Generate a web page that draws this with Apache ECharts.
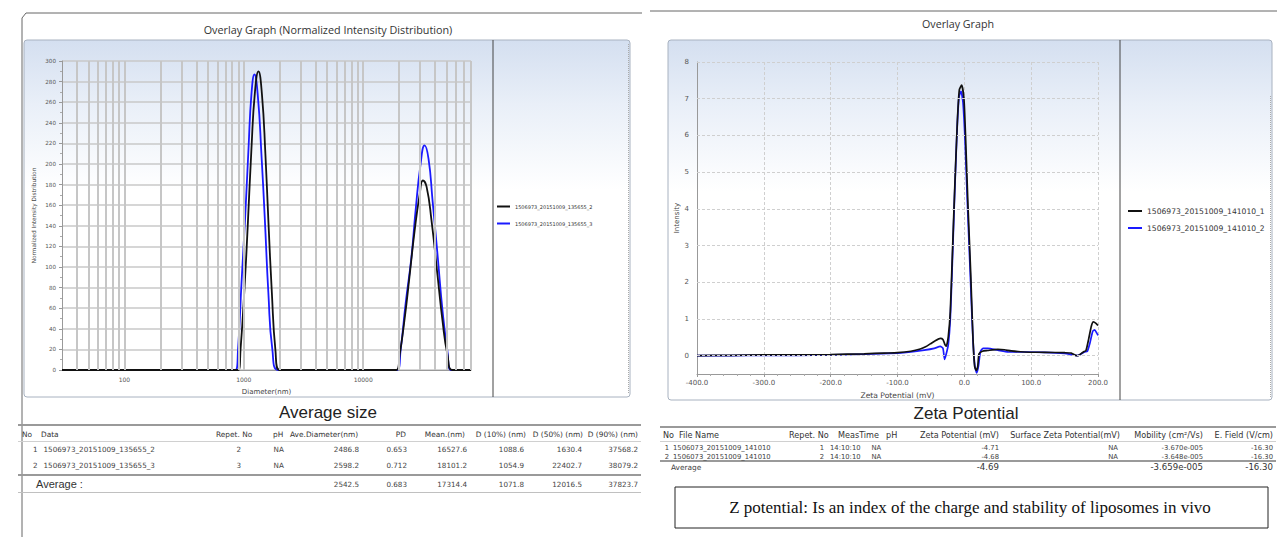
<!DOCTYPE html>
<html><head><meta charset="utf-8">
<script src="https://cdn.jsdelivr.net/npm/echarts@6/dist/echarts.min.js"></script>
<style>html,body{margin:0;padding:0;background:#fff;}#c{width:1277px;height:537px;}</style>
</head><body><div id="c"></div>
<script>
// ================= DATA =================
const sizeSeriesNames = ['1506973_20151009_135655_2', '1506973_20151009_135655_3'];
// diameter (nm) and normalized intensity, run _2 (black)
const sizeDiamA = [30, 898, 939, 1014, 1084, 1159, 1240, 1326, 1418, 1516, 1606, 1718, 1838, 1984,
  18980, 20220, 22260, 24500, 26960, 29690, 31620, 33950, 37360, 41930, 46160, 50800, 56230, 80000];
const sizeIntA = [0, 0, 20, 80, 145, 215, 270, 290, 268, 210, 145, 75, 20, 0,
  0, 15, 50, 92, 135, 170, 184, 178, 145, 92, 48, 15, 0, 0];
// run _3 (blue)
const sizeDiamB = [30, 853, 895, 957, 1023, 1095, 1159, 1228, 1313, 1404, 1502, 1606, 1734, 1935,
  19200, 20610, 22690, 25320, 27490, 30260, 32670, 35270, 38080, 42170, 46160, 50800, 54560, 80000];
const sizeIntB = [0, 0, 20, 85, 145, 215, 268, 287, 265, 210, 145, 75, 20, 0,
  0, 20, 65, 109, 155, 200, 218, 205, 165, 109, 58, 18, 0, 0];
const diameterGridValues = [40, 50, 60, 70, 80, 90, 100, 200, 300, 400, 500, 600, 700, 800, 900, 1000,
  2000, 3000, 4000, 5000, 6000, 7000, 8000, 9000, 10000, 20000, 30000, 40000, 50000, 60000, 70000, 80000];
const diameterLabelValues = [100, 1000, 10000];

const zetaSeriesNames = ['1506973_20151009_141010_1', '1506973_20151009_141010_2'];
const zetaMvA = [-400, -350, -300, -250, -200, -150, -120, -100, -80, -66, -58, -51, -44, -36, -32, -29, -27, -24, -21, -18,
  -14.5, -10.5, -7.5, -4, -0.5, 2, 5.5, 9.5, 13, 15.5, 18, 20, 22, 27, 35, 50, 60, 70, 90, 120, 150, 160, 168, 172, 178,
  182, 186, 190, 193, 197, 200];
const zetaIntA = [0, 0.01, 0.02, 0.02, 0.03, 0.05, 0.07, 0.08, 0.12, 0.18, 0.24, 0.32, 0.4, 0.47, 0.44, 0.3, 0.26, 0.52, 1.2, 2.7,
  4.5, 6.35, 7.24, 7.37, 6.97, 5.88, 4.06, 2.26, 0.44, -0.3, -0.4, -0.3, 0.05, 0.12, 0.14, 0.17, 0.16, 0.13, 0.1, 0.09, 0.08, 0.07, 0.0, 0.02, 0.1,
  0.14, 0.45, 0.8, 0.92, 0.88, 0.82];
const zetaMvB = [-400, -350, -300, -250, -200, -150, -100, -80, -60, -45, -36, -32, -29.5, -27, -24, -21, -18, -14.5, -11, -8,
  -5, -2, 1, 4.5, 8.5, 12.5, 15.5, 18.5, 21, 24, 28, 35, 50, 66, 90, 120, 150, 160, 169, 175, 180, 184, 188, 192, 195, 198, 200];
const zetaIntB = [0, 0, 0.01, 0.01, 0.02, 0.04, 0.07, 0.1, 0.15, 0.2, 0.25, 0.2, -0.1, 0.05, 0.3, 1.0, 2.5, 4.4, 6.1, 7.05,
  7.2, 6.9, 5.9, 4.2, 2.4, 0.6, -0.25, -0.47, -0.3, 0.1, 0.2, 0.2, 0.15, 0.1, 0.1, 0.09, 0.06, 0.03, 0.0, 0.05, 0.1, 0.12, 0.35, 0.66, 0.7, 0.62, 0.55];
const intensityTickValues = [0, 1, 2, 3, 4, 5, 6, 7, 8];

// tables
const sizeHeaders = ['No', 'Data', 'Repet. No', 'pH', 'Ave.Diameter(nm)', 'PD', 'Mean.(nm)', 'D (10%) (nm)', 'D (50%) (nm)', 'D (90%) (nm)'];
const sizeRows = [
  ['1', '1506973_20151009_135655_2', '2', 'NA', '2486.8', '0.653', '16527.6', '1088.6', '1630.4', '37568.2'],
  ['2', '1506973_20151009_135655_3', '3', 'NA', '2598.2', '0.712', '18101.2', '1054.9', '22402.7', '38079.2']
];
const sizeAverageLabel = 'Average :';
const sizeAverage = ['2542.5', '0.683', '17314.4', '1071.8', '12016.5', '37823.7'];

const zetaHeaders = ['No', 'File Name', 'Repet. No', 'MeasTime', 'pH', 'Zeta Potential (mV)', 'Surface Zeta Potential(mV)', 'Mobility (cm\u00b2/Vs)', 'E. Field (V/cm)'];
const zetaRows = [
  ['1', '1506073_20151009_141010', '1', '14:10:10', 'NA', '-4.71', 'NA', '-3.670e-005', '-16.30'],
  ['2', '1506073_20151009_141010', '2', '14:10:10', 'NA', '-4.68', 'NA', '-3.648e-005', '-16.30']
];
const zetaAverageLabel = 'Average';
const zetaAverage = ['-4.69', '-3.659e-005', '-16.30'];
const noteText = 'Z potential: Is an index of the charge and stability of liposomes in vivo';

// ================= LAYOUT / STYLE =================
const UI = 'DejaVu Sans';
const BLACK = '#111111', BLUE = '#1a1aff';
const G = [];
function T(text, x, y, size, align, opt) {
  opt = opt || {};
  G.push({ type: 'text', z: 10, silent: true, style: {
    text: text, x: x, y: y, fill: opt.fill || '#333', fontSize: size, fontFamily: opt.family || UI,
    fontWeight: opt.weight || 'normal', align: align || 'left', verticalAlign: 'middle',
    textAlign: align || 'left', textVerticalAlign: 'middle' } });
}
function L(x1, y1, x2, y2, color, w, dash) {
  G.push({ type: 'line', z: 1, silent: true, shape: { x1: x1, y1: y1, x2: x2, y2: y2 },
    style: { stroke: color, lineWidth: w || 1, lineDash: dash || null } });
}
function R(x, y, w, h, fill, stroke, r, z) {
  G.push({ type: 'rect', z: z == null ? 0 : z, silent: true, shape: { x: x, y: y, width: w, height: h, r: r || 0 },
    style: { fill: fill, stroke: stroke || null, lineWidth: 1 } });
}
const grad = () => new echarts.graphic.LinearGradient(0, 0, 0, 1, [
  { offset: 0, color: '#d4dff0' }, { offset: 0.18, color: '#e9eff8' }, { offset: 0.42, color: '#ffffff' }, { offset: 1, color: '#ffffff' }]);

// frames
G.push({ type: 'polyline', z: 1, silent: true, shape: { points: [[22, 537], [22, 18], [26, 13], [642, 13]] }, style: { stroke: '#666', fill: null, lineWidth: 1 } });
L(650, 11, 1277, 11, '#666', 1);
// chart boxes
R(24, 40, 606, 357, grad(), '#a8b2c0', 3, 0);
R(668, 40, 604, 360, grad(), '#a8b2c0', 3, 0);
L(493, 40, 493, 397, '#444', 1);
L(1120, 40, 1120, 400, '#444', 1);
L(628.5, 44, 628.5, 394, '#aaa', 1, [1, 1]);
L(1270.5, 96, 1270.5, 398, '#aaa', 1, [1, 1]);

// titles
T('Overlay Graph (Normalized Intensity Distribution)', 328, 29, 10.8, 'center', { family: 'Open Sans', fill: '#333' });
T('Overlay Graph', 958, 24, 10.7, 'center', { family: 'Open Sans', fill: '#333' });
T('Average size', 328, 412, 17, 'center', { family: 'Liberation Sans', fill: '#222' });
T('Zeta Potential', 966, 413, 17, 'center', { family: 'Liberation Sans', fill: '#222' });

// ---- left table ----
R(18, 424, 623, 2, '#9a9a9a', null, 0, 1);
L(18, 441.5, 641, 441.5, '#d0d0d0', 1);
R(18, 474, 623, 2, '#9a9a9a', null, 0, 1);
L(18, 492.5, 641, 492.5, '#c0c0c0', 1);
const sHead = [[22, 'left'], [41, 'left'], [216, 'left'], [273, 'left'], [290, 'left'], [406, 'right'], [465, 'right'], [526, 'right'], [583, 'right'], [638, 'right']];
sizeHeaders.forEach((h, i) => T(h, sHead[i][0], 434, 7.4, sHead[i][1], { fill: '#333' }));
const sCol = [[37.5, 'right'], [43.5, 'left'], [241, 'right'], [273.5, 'left'], [359, 'right'], [407, 'right'], [467, 'right'], [524, 'right'], [582, 'right'], [638, 'right']];
sizeRows.forEach((row, r) => row.forEach((v, i) => T(v, sCol[i][0], 449 + r * 16, 7.2, sCol[i][1], { fill: '#444' })));
T(sizeAverageLabel, 36, 484, 11, 'left', { family: 'Liberation Sans', fill: '#333' });
sizeAverage.forEach((v, i) => T(v, sCol[i + 4][0], 484, 7.2, 'right', { fill: '#444' }));

// ---- right table ----
R(660, 426, 616, 2, '#9a9a9a', null, 0, 1);
L(660, 441.5, 1276, 441.5, '#d0d0d0', 1);
R(660, 460, 616, 2, '#9a9a9a', null, 0, 1);
const zHead = [[663, 'left'], [679, 'left'], [789, 'left'], [838, 'left'], [886, 'left'], [999, 'right'], [1120, 'right'], [1203, 'right'], [1273, 'right']];
zetaHeaders.forEach((h, i) => T(h, zHead[i][0], 435, 8.1, zHead[i][1], { fill: '#333' }));
const zCol = [[669, 'right'], [673, 'left'], [824, 'right'], [830, 'left'], [871.5, 'left'], [999, 'right'], [1118, 'right'], [1203, 'right'], [1273, 'right']];
zetaRows.forEach((row, r) => row.forEach((v, i) => T(v, zCol[i][0], 447.5 + r * 9, 6.8, zCol[i][1], { fill: '#444' })));
T(zetaAverageLabel, 671, 467.5, 7.4, 'left', { fill: '#444' });
[[999], [1203], [1273]].forEach((c, i) => T(zetaAverage[i], c[0], 466.5, 8.6, 'right', { fill: '#333' }));

// note box
R(675, 487, 593, 41, null, '#222', 0, 1);
T(noteText, 970, 507.5, 17, 'center', { family: 'Liberation Serif', fill: '#111' });

// ================= CHART =================
const chart = echarts.init(document.getElementById('c'), null, { renderer: 'svg', width: 1277, height: 537 });
const axisLabelStyle = { color: '#555', fontFamily: UI };
const isPow10 = v => Math.abs(Math.log10(v) - Math.round(Math.log10(v))) < 1e-6;

chart.setOption({
  animation: false,
  backgroundColor: '#ffffff',
  graphic: { elements: G },
  grid: [
    { left: 62, top: 61, width: 409, height: 309 },
    { left: 697, top: 62, width: 401, height: 312 }
  ],
  xAxis: [
    { type: 'log', logBase: 10, min: 30, max: 80000, gridIndex: 0,
      name: 'Diameter(nm)', nameLocation: 'middle', nameGap: 18,
      nameTextStyle: { fontSize: 7, color: '#444', fontFamily: UI },
      axisLine: { lineStyle: { color: '#999' } }, axisTick: { show: false },
      axisLabel: Object.assign({ fontSize: 6, margin: 6, showMinLabel: false, showMaxLabel: false,
        formatter: v => (isPow10(v) && diameterLabelValues.indexOf(Math.round(v)) >= 0) ? String(Math.round(v)) : '' }, axisLabelStyle),
      splitLine: { show: false } },
    { type: 'value', min: -400, max: 200, interval: 100, gridIndex: 1,
      name: 'Zeta Potential (mV)', nameLocation: 'middle', nameGap: 17,
      nameTextStyle: { fontSize: 7.6, color: '#444', fontFamily: UI },
      axisLine: { onZero: false, lineStyle: { color: '#999' } },
      axisTick: { show: true, length: 3, lineStyle: { color: '#999' } },
      minorTick: { show: true, splitNumber: 5, length: 2, lineStyle: { color: '#aaa' } },
      axisLabel: Object.assign({ fontSize: 7, margin: 5, formatter: v => v.toFixed(1) }, axisLabelStyle),
      splitLine: { show: true, lineStyle: { color: '#cfcfcf', type: [3, 2], width: 1 } } }
  ],
  yAxis: [
    { type: 'value', min: 0, max: 300, interval: 20, gridIndex: 0,
      name: 'Normalized Intensity Distribution', nameLocation: 'middle', nameGap: 25,
      nameTextStyle: { fontSize: 5.8, color: '#444', fontFamily: UI },
      axisLine: { show: true, lineStyle: { color: '#999' } },
      axisTick: { show: true, length: 3, lineStyle: { color: '#999' } },
      minorTick: { show: true, splitNumber: 2, length: 2, lineStyle: { color: '#aaa' } },
      axisLabel: Object.assign({ fontSize: 5.6, margin: 6 }, axisLabelStyle),
      splitLine: { show: true, lineStyle: { color: '#c9c9c9', width: 1.5 } } },
    { type: 'value', min: -0.5, max: 8, gridIndex: 1,
      name: 'Intensity', nameLocation: 'middle', nameGap: 15,
      nameTextStyle: { fontSize: 7, color: '#444', fontFamily: UI },
      axisLine: { show: true, onZero: false, lineStyle: { color: '#999' } },
      axisTick: { show: false, customValues: intensityTickValues },
      axisLabel: Object.assign({ fontSize: 7, margin: 8, customValues: intensityTickValues, formatter: v => String(Math.round(v)) }, axisLabelStyle),
      splitLine: { show: false } }
  ],
  legend: [
    { data: sizeSeriesNames, orient: 'vertical', left: 497, top: 204, padding: 0, icon: 'rect', itemWidth: 13, itemHeight: 2, itemGap: 12,
      textStyle: { fontSize: 5, color: '#333', fontFamily: UI }, selectedMode: false },
    { data: zetaSeriesNames, orient: 'vertical', left: 1128, top: 207, padding: 0, icon: 'rect', itemWidth: 14, itemHeight: 2, itemGap: 9,
      textStyle: { fontSize: 7.6, color: '#333', fontFamily: UI }, selectedMode: false }
  ],
  series: [
    { type: 'line', name: 'gridX', xAxisIndex: 0, yAxisIndex: 0, data: [[30, 0]], symbol: 'none', lineStyle: { width: 0 }, z: 1, silent: true,
      markLine: { silent: true, symbol: ['none', 'none'], label: { show: false }, animation: false,
        lineStyle: { color: '#c6c6c6', width: 2, type: 'solid' },
        data: diameterGridValues.map(v => ({ xAxis: v })) } },
    { type: 'line', name: 'gridY', xAxisIndex: 1, yAxisIndex: 1, data: [[-400, 0]], symbol: 'none', lineStyle: { width: 0 }, z: 1, silent: true,
      markLine: { silent: true, symbol: ['none', 'none'], label: { show: false }, animation: false,
        lineStyle: { color: '#cfcfcf', width: 1, type: [3, 2] },
        data: intensityTickValues.map(v => ({ yAxis: v })) } },
    { type: 'line', name: sizeSeriesNames[1], xAxisIndex: 0, yAxisIndex: 0, data: sizeDiamB.map((d, i) => [d, sizeIntB[i]]),
      showSymbol: false, symbol: 'none', smooth: 0.5, color: BLUE, lineStyle: { color: BLUE, width: 1.8 }, z: 3 },
    { type: 'line', name: sizeSeriesNames[0], xAxisIndex: 0, yAxisIndex: 0, data: sizeDiamA.map((d, i) => [d, sizeIntA[i]]),
      showSymbol: false, symbol: 'none', smooth: 0.5, color: BLACK, lineStyle: { color: BLACK, width: 1.8 }, z: 4 },
    { type: 'line', name: zetaSeriesNames[1], xAxisIndex: 1, yAxisIndex: 1, data: zetaMvB.map((d, i) => [d, zetaIntB[i]]),
      showSymbol: false, symbol: 'none', smooth: 0.2, clip: false, color: BLUE, lineStyle: { color: BLUE, width: 1.7 }, z: 3 },
    { type: 'line', name: zetaSeriesNames[0], xAxisIndex: 1, yAxisIndex: 1, data: zetaMvA.map((d, i) => [d, zetaIntA[i]]),
      showSymbol: false, symbol: 'none', smooth: 0.2, clip: false, color: BLACK, lineStyle: { color: BLACK, width: 1.7 }, z: 4 }
  ]
});
</script>
</body></html>
